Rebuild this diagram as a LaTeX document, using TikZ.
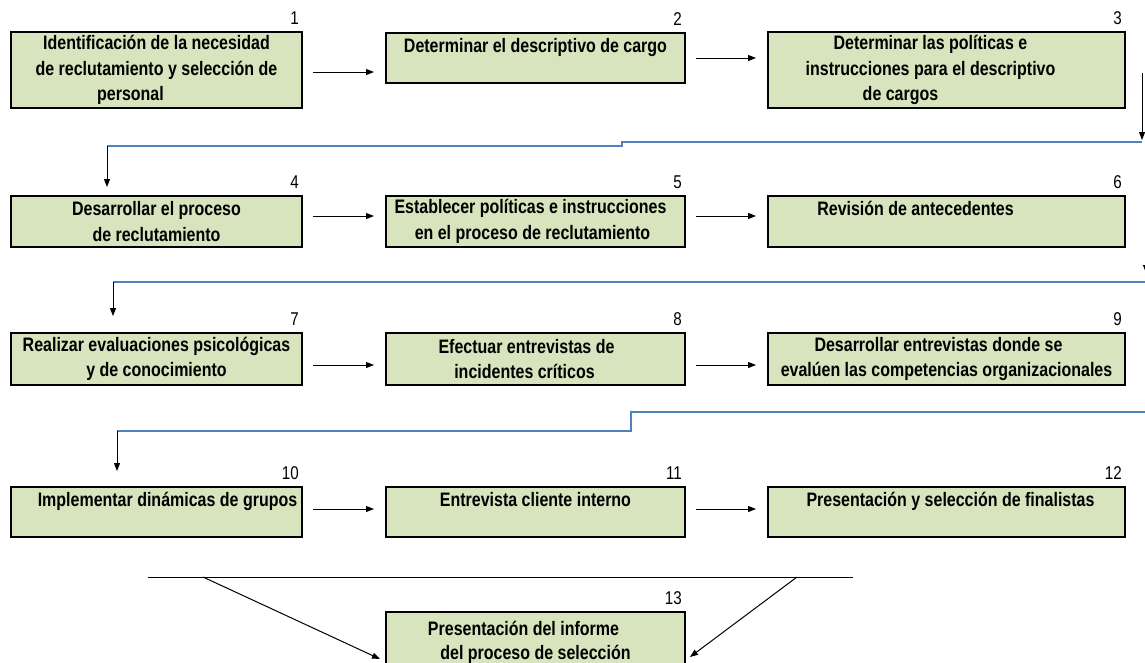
\documentclass[tikz,border=0pt]{standalone}
\usepackage{fontspec}
\setmainfont[FakeStretch=0.82]{Liberation Sans}
\usetikzlibrary{arrows.meta}
\definecolor{boxgreen}{RGB}{215,228,189}
\definecolor{flowblue}{RGB}{79,129,189}

\begin{document}
\begin{tikzpicture}[x=1pt,y=-1pt]
        \tikzset{box/.style={draw,line width=2pt,fill=boxgreen,inner sep=0pt,
                minimum height=#1,align=center,
                font=\fontsize{19.5}{25.5}\selectfont\bfseries},
            colA/.style={minimum width=291pt},
            colB/.style={minimum width=299pt},
            colC/.style={minimum width=357pt},
            num/.style={anchor=south east,inner sep=1pt,xshift=-3pt,yshift=5pt,
                font=\fontsize{18.5}{20}\selectfont},
            link/.style={-{Triangle[length=8pt,width=6pt]},line width=1pt,
                shorten <=10pt,shorten >=11pt},
            wire/.style={flowblue,line width=1.3pt}}
        \useasboundingbox (0,0) rectangle (1145,662);
        \node[box=76pt,colA] (b1) at (156.5,70)
            {Identificación de la necesidad\\ de reclutamiento y selección de\\ \hspace*{-52pt}personal};
        \node[box=50pt,colB] (b2) at (535.5,58)
            {Determinar el descriptivo de cargo\\ \mbox{}};
        \node[box=76pt,colC] (b3) at (946.5,70)
            {\hspace*{-32pt}Determinar las políticas e\\ \hspace*{-32pt}instrucciones para el descriptivo\\ \hspace*{-92pt}de cargos};
        \node[box=51pt,colA] (b4) at (156.5,221.5)
            {Desarrollar el proceso\\ de reclutamiento};
        \node[box=51pt,colB] (b5) at (535.5,221.5)
            {\hspace*{-10pt}Establecer políticas e instrucciones\\ \hspace*{-6pt}en el proceso de reclutamiento};
        \node[box=51pt,colC] (b6) at (946.5,221.5)
            {\hspace*{-62pt}Revisión de antecedentes\\ \mbox{}};
        \node[box=52pt,colA] (b7) at (156.5,359)
            {Realizar evaluaciones psicológicas\\ y de conocimiento};
        \node[box=52pt,colB] (b8) at (535.5,359)
            {\hspace*{-18pt}Efectuar entrevistas de\\ \hspace*{-22pt}incidentes críticos};
        \node[box=52pt,colC] (b9) at (946.5,359)
            {\hspace*{-16pt}Desarrollar entrevistas donde se\\ evalúen las competencias organizacionales};
        \node[box=50pt,colA] (b10) at (156.5,512)
            {\hspace*{22pt}Implementar dinámicas de grupos\\ \mbox{}};
        \node[box=50pt,colB] (b11) at (535.5,512)
            {Entrevista cliente interno\\ \mbox{}};
        \node[box=50pt,colC] (b12) at (946.5,512)
            {\hspace*{8pt}Presentación y selección de finalistas\\ \mbox{}};
        \node[box=60pt,colB,font=\fontsize{19.5}{24}\selectfont\bfseries] (b13) at (535.5,642)
            {\hspace*{-24pt}Presentación del informe\\ del proceso de selección};
        \foreach \i in {1,...,13}
            \node[num] (n\i) at (b\i.north east) {\i};

        \draw[link] ([yshift=-2pt]b1.east) -- ([yshift=-2pt]b1.east -| b2.west);
        \draw[link] (b2.east) -- (b2.east -| b3.west);
        \draw[link] ([yshift=5.5pt]b4.east) -- ([yshift=5.5pt]b4.east -| b5.west);
        \draw[link] ([yshift=5.5pt]b5.east) -- ([yshift=5.5pt]b5.east -| b6.west);
        \draw[link] ([yshift=-6pt]b7.east) -- ([yshift=-6pt]b7.east -| b8.west);
        \draw[link] ([yshift=-6pt]b8.east) -- ([yshift=-6pt]b8.east -| b9.west);
        \draw[link] ([yshift=3pt]b10.east) -- ([yshift=3pt]b10.east -| b11.west);
        \draw[link] ([yshift=3pt]b11.east) -- ([yshift=3pt]b11.east -| b12.west);

        \coordinate (d1) at (1142,73);
        \coordinate (e1) at (1142,142);
        \coordinate (s1) at (622,146);
        \coordinate (f1) at (107,146);
        \draw[link,shorten <=0pt,shorten >=2pt] (d1) -- (e1);
        \draw[wire] (e1) -| (s1) -- (f1);
        \draw[link,shorten <=0pt,shorten >=8pt] (f1) -- (f1 |- b4.north);

        \coordinate (d2) at (1146,250);
        \coordinate (e2) at (1146,282);
        \coordinate (f2) at (113,282);
        \draw[link,shorten <=0pt,shorten >=9pt] (d2) -- (e2);
        \draw[wire] (e2) -- (f2);
        \draw[link,shorten <=0pt,shorten >=16pt] (f2) -- (f2 |- b7.north);

        \coordinate (e3) at (1146,412);
        \coordinate (s3) at (631,431);
        \coordinate (f3) at (117,431);
        \draw[wire] (e3) -| (s3) -- (f3);
        \draw[link,shorten <=0pt,shorten >=15pt] (f3) -- (f3 |- b10.north);

        \coordinate (h1) at (148,577);
        \coordinate (h2) at (853,577);
        \coordinate (g1) at (203,577);
        \coordinate (g2) at (797,577);
        \draw[line width=1pt] (h1) -- (h2);
        \draw[link,shorten <=0pt,shorten >=0pt] (g1) -- ([xshift=-5pt,yshift=-17pt]b13.west);
        \draw[link,shorten <=0pt,shorten >=0pt] (g2) -- ([xshift=4pt,yshift=-15pt]b13.east);
    \end{tikzpicture}
\end{document}
